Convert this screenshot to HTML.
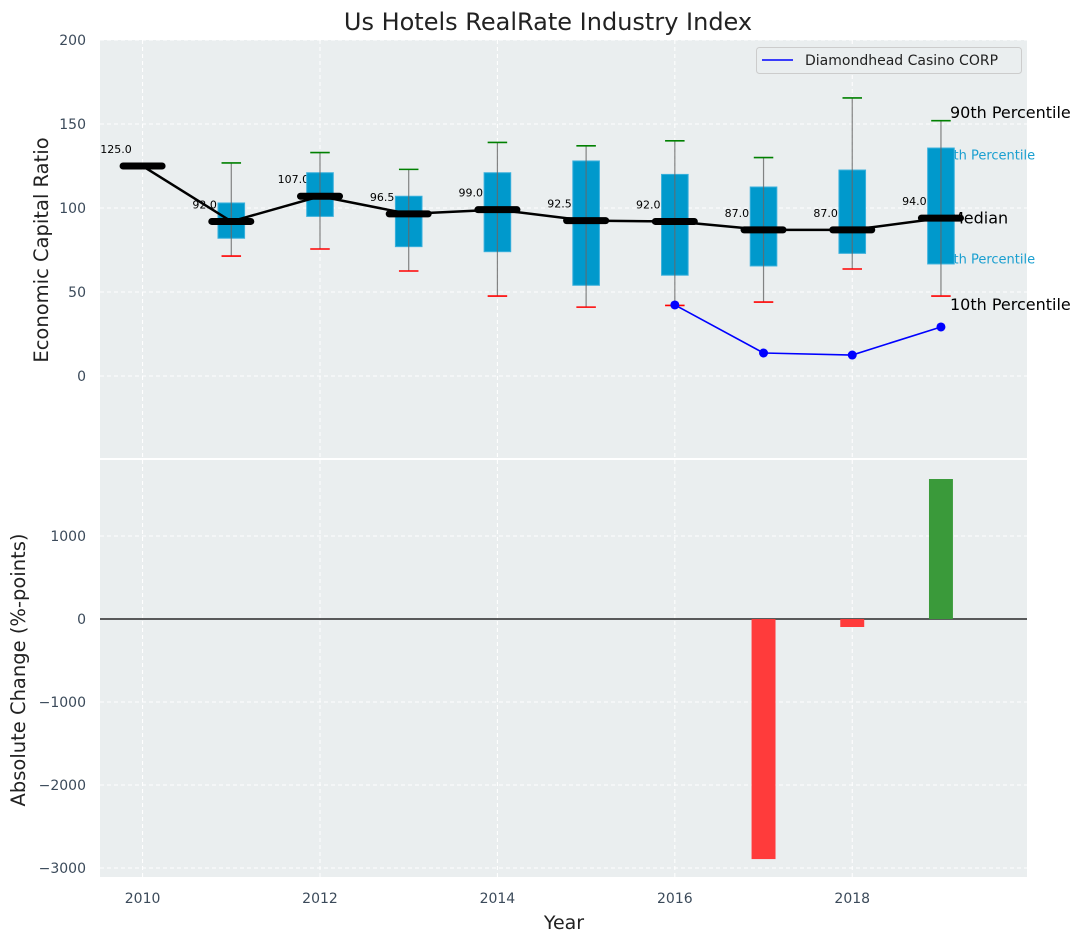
<!DOCTYPE html>
<html><head><meta charset="utf-8"><style>
html,body{margin:0;padding:0;background:#fff;}
svg{display:block;font-family:"DejaVu Sans","Liberation Sans",sans-serif;}
</style></head><body>
<svg id="chart" width="1085" height="942" xmlns="http://www.w3.org/2000/svg">
<text x="548" y="30" text-anchor="middle" font-size="24" fill="#222">Us Hotels RealRate Industry Index</text>
<g id="topPanel"></g>
<g id="botPanel"></g>
</svg>
<script>
const years = [2010,2011,2012,2013,2014,2015,2016,2017,2018,2019];
const medians = [125,92,107,96.5,99,92.5,92,87,87,94];
const q1 = [null,82,95,77,74,54,60,65.5,73,66.7];
const q3 = [null,103,121,107,121,128,120,112.5,122.6,135.7];
const p10 = [null,71.4,75.6,62.5,47.6,41,42,44,63.7,47.6];
const p90 = [null,126.8,133,123,139,137,140,130,165.5,152];
const compYears = [2016,2017,2018,2019];
const compValues = [42.3,13.7,12.5,29.2];
const changeYears = [2017,2018,2019];
const changeValues = [-2892,-96,1687];
const yTicksTop = [0,50,100,150,200];
const yTicksBot = [-3000,-2000,-1000,0,1000];
const xTicks = [2010,2012,2014,2016,2018];

const NS="http://www.w3.org/2000/svg";
const L=100,R=1027;
const x=v=>L+(v-2009.52)/(2019.97-2009.52)*(R-L);
const T0=40,T1=458, yt=v=>T0+(200-v)/(200-(-48.8))*(T1-T0);
const B0=460,B1=877, yb=v=>B0+(1916-v)/(1916-(-3108))*(B1-B0);
function el(p,tag,a,txt){const e=document.createElementNS(NS,tag);for(const k in a)e.setAttribute(k,a[k]);if(txt!==undefined)e.textContent=txt;p.appendChild(e);return e;}
const topG=document.getElementById('topPanel'), botG=document.getElementById('botPanel');

let e=el(topG,'rect',{x:L,y:T0,width:R-L,height:T1-T0,fill:'#eaeeef'});


e=el(botG,'rect',{x:L,y:B0,width:R-L,height:B1-B0,fill:'#eaeeef'});



xTicks.forEach(t=>{
  el(topG,'line',{x1:x(t),x2:x(t),y1:T0,y2:T1,stroke:'#fff','stroke-dasharray':'4,3','stroke-width':1});
  el(botG,'line',{x1:x(t),x2:x(t),y1:B0,y2:B1,stroke:'#fff','stroke-dasharray':'4,3','stroke-width':1});
  const t1=el(botG,'text',{x:x(t),y:903,'text-anchor':'middle','font-size':14,fill:'#3b4a5a'},String(t));
  
  
});
yTicksTop.forEach(t=>{
  el(topG,'line',{x1:L,x2:R,y1:yt(t),y2:yt(t),stroke:'#fff','stroke-dasharray':'4,3','stroke-width':1});
  const t1=el(topG,'text',{x:86,y:yt(t)+5,'text-anchor':'end','font-size':14,fill:'#3b4a5a'},String(t));
  
  
});
yTicksBot.forEach(t=>{
  el(botG,'line',{x1:L,x2:R,y1:yb(t),y2:yb(t),stroke:'#fff','stroke-dasharray':'4,3','stroke-width':1});
  const t1=el(botG,'text',{x:86,y:yb(t)+5,'text-anchor':'end','font-size':14,fill:'#3b4a5a'},(t<0?'\u2212'+(-t):String(t)));
  
  
});

years.forEach((yr,i)=>{
  const t1=el(topG,'text',{x:x(yr-0.3),y:yt(medians[i])-13,'text-anchor':'middle','font-size':11,fill:'#000'},medians[i].toFixed(1));
  
  
});
const li=years.length-1, lx=x(years[li])+9;
const ann=[['90th Percentile',p90[li]+5,'#000',16],['75th Percentile',q3[li]-4,'#1a9fd0',13],['Median',medians[li],'#000',16],['25th Percentile',q1[li]+3,'#1a9fd0',13],['10th Percentile',p10[li]-5,'#000',16]];
ann.forEach(a=>{
  const t1=el(topG,'text',{x:a[3]==13?lx-13:lx,y:yt(a[1])+a[3]*0.35,'font-size':a[3],fill:a[2]},a[0]);
  
  
});

const hw=0.15,cw=0.11;
years.forEach((yr,i)=>{
  if(q1[i]===null)return;
  const g=el(topG,'g',{});
  
  
  el(g,'rect',{x:x(yr-hw),y:yt(q3[i]),width:x(yr+hw)-x(yr-hw),height:yt(q1[i])-yt(q3[i]),fill:'#0099cc',stroke:'#3ab0dc','stroke-width':1});
  el(g,'line',{x1:x(yr),x2:x(yr),y1:yt(p90[i]),y2:yt(p10[i]),stroke:'#666','stroke-width':1.2,'stroke-opacity':0.8});
  el(g,'line',{x1:x(yr-cw),x2:x(yr+cw),y1:yt(p90[i]),y2:yt(p90[i]),stroke:'green','stroke-width':1.6});
  el(g,'line',{x1:x(yr-cw),x2:x(yr+cw),y1:yt(p10[i]),y2:yt(p10[i]),stroke:'red','stroke-width':1.6});
});
e=el(topG,'polyline',{points:years.map((yr,i)=>x(yr)+','+yt(medians[i])).join(' '),fill:'none',stroke:'#000','stroke-width':2.5});


years.forEach((yr,i)=>{
  const m=el(topG,'line',{x1:x(yr-0.22),x2:x(yr+0.22),y1:yt(medians[i]),y2:yt(medians[i]),stroke:'#000','stroke-width':7,'stroke-linecap':'round'});
  
  
});
e=el(topG,'polyline',{points:compYears.map((yr,i)=>x(yr)+','+yt(compValues[i])).join(' '),fill:'none',stroke:'blue','stroke-width':1.6});


compYears.forEach((yr,i)=>{
  const c=el(topG,'circle',{cx:x(yr),cy:yt(compValues[i]),r:4.5,fill:'blue'});
  
  
});
const lg=el(topG,'g',{});


el(lg,'rect',{x:756.5,y:47.5,width:265,height:26,rx:3,fill:'#eaeeef',stroke:'#ccc'});
el(lg,'line',{x1:762,x2:793,y1:60,y2:60,stroke:'blue','stroke-width':1.6});
el(lg,'text',{x:805,y:65,'font-size':14,fill:'#222'},'Diamondhead Casino CORP');

el(botG,'line',{x1:L,x2:R,y1:yb(0),y2:yb(0),stroke:'#000','stroke-width':1.2});
changeYears.forEach((yr,i)=>{
  const v=changeValues[i];
  const b=el(botG,'rect',{x:x(yr-0.135),width:x(yr+0.135)-x(yr-0.135),y:Math.min(yb(0),yb(v)),height:Math.abs(yb(v)-yb(0)),fill:v<0?'#ff3b3b':'#3a9a3a'});
  
  
});

e=el(topG,'text',{x:0,y:0,'font-size':19.5,fill:'#222','text-anchor':'middle',transform:'translate(48,250) rotate(-90)'},'Economic Capital Ratio');


e=el(botG,'text',{x:0,y:0,'font-size':19.5,fill:'#222','text-anchor':'middle',transform:'translate(25,670) rotate(-90)'},'Absolute Change (%-points)');


e=el(botG,'text',{x:564,y:929,'font-size':19,fill:'#222','text-anchor':'middle'},'Year');


</script>
</body></html>
